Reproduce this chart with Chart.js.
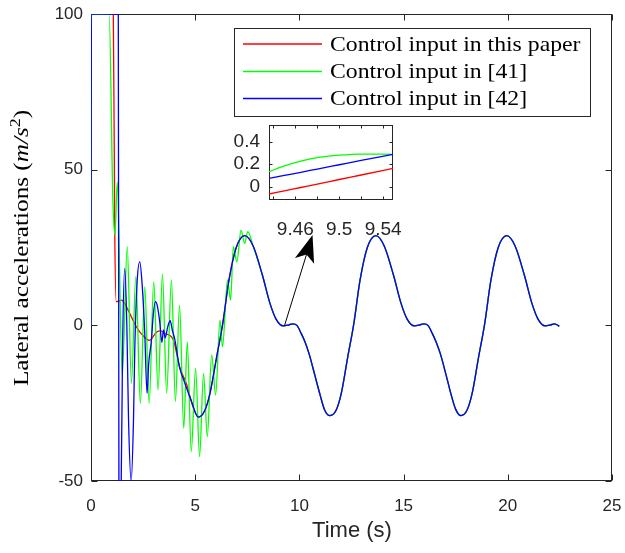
<!DOCTYPE html>
<html>
<head>
<meta charset="utf-8">
<script src="https://cdn.jsdelivr.net/npm/chart.js@4.4.0/dist/chart.umd.min.js"></script>
<style>
  html, body { margin: 0; padding: 0; background: #fff; }
  #wrap { position: relative; width: 625px; height: 553px; }
  #main { position: absolute; left: 0; top: 0; }
  #inset { position: absolute; left: 220px; top: 120px; }
</style>
</head>
<body>
<div id="wrap">
  <canvas id="main" width="625" height="553"></canvas>
  <canvas id="inset" width="190" height="125"></canvas>
</div>
<script>
// ---- data ----
// common steady part, shared by all three inputs once they have converged
const tailTime = [5.15, 5.47, 5.72, 6.02, 6.32, 6.62, 6.97, 7.38, 7.78, 8.23, 8.58, 8.88, 9.23, 9.48, 9.68, 9.88,
  10.08, 10.28, 10.48, 10.74, 11.0, 11.2, 11.47, 11.76, 12.02, 12.31, 12.61, 12.91, 13.26, 13.67, 14.07, 14.52,
  14.87, 15.17, 15.52, 15.77, 15.97, 16.17, 16.37, 16.57, 16.78, 17.04, 17.29, 17.5, 17.75, 18.04, 18.3, 18.59,
  18.89, 19.19, 19.54, 19.95, 20.35, 20.8, 21.15, 21.45, 21.8, 22.05, 22.25, 22.47];
const tailValue = [-29.5, -27.2, -21.5, -10.5, 0.5, 14.5, 25, 28.8, 25.5, 16, 7.2, 2, -0.2, 0.1, 0.5, 0,
  -2.5, -5.5, -9.5, -16, -22.5, -27, -29, -27.3, -21.5, -10.5, 0.5, 14.5, 25, 28.8, 25.5, 16,
  7.2, 2, -0.2, 0.1, 0.5, 0, -2.5, -5.5, -9.5, -16, -22.5, -27, -29, -27.3, -21.5, -10.5,
  0.5, 14.5, 25, 28.8, 25.5, 16, 7.2, 2, -0.2, 0.1, 0.5, -0.3];

// transient part of each input
const redTime = [0, 0.02, 1.07, 1.14, 1.21, 1.35, 1.47, 1.62, 1.93, 2.17, 2.45, 2.8, 3.14, 3.35, 3.55, 3.95, 4.25, 4.57, 4.89];
const redValue = [0, 100, 100, 30, 7.6, 7.8, 8.1, 7, 2.8, -0.4, -3, -4.8, -2.2, -1.8, -2.6, -4.7, -13.3, -18.6, -26.1];

const greenTime = [0, 0.02, 0.87, 1.05, 1.15, 1.26, 1.5, 1.74, 1.94, 2.15, 2.37, 2.58, 2.79, 3.01, 3.22, 3.43, 3.63,
  3.86, 4.05, 4.25, 4.45, 4.62, 4.81, 5.02, 5.21, 5.4, 5.58, 5.79, 5.98, 6.19, 6.31, 6.55, 6.7, 6.83, 7.0, 7.2, 7.37, 7.52, 7.78];
const greenValue = [0, 100, 100, 40, 29, 46, -16, 25.3, -18.6, 15.6, -25.1, 12.4, -25.1, 14, -20.8, 16.5, -21.8,
  14.6, -24.5, 6.5, -33.1, -5.3, -40.6, -13.8, -42.2, -15.4, -35.8, -9.5, -22.4, 1.7, -6.9, 14.6, 8.1, 25.3, 20.4, 30.6, 26.3, 30.1, 25.5];

const blueTime = [0, 0.02, 1.31, 1.34, 1.39, 1.45, 1.52, 1.62, 1.72, 1.8, 1.93, 2.04, 2.1, 2.21, 2.34, 2.45, 2.58,
  2.69, 2.77, 2.9, 2.98, 3.09, 3.19, 3.3, 3.4, 3.48, 3.56, 3.68, 3.8, 3.9, 4.02, 4.25, 4.5, 4.8];
const blueValue = [0, 100, 100, -50, -58, -50, -5, 18.3, 0, -30, -50, -30, -8, 13.5, 20.4, 13.5, -2.6,
  -21.8, -12.2, -4.7, 2.8, 7.6, 6, 1, -5.5, -1.5, -4, -0.5, 1.5, -1.5, -4.5, -13.5, -18.5, -24];

// zoomed inset around t = 9.5
const insetTime = [9.436, 9.45, 9.465, 9.48, 9.5, 9.52, 9.549];
const insetRed = [-0.065, -0.037, -0.007, 0.023, 0.064, 0.104, 0.163];
const insetGreen = [0.133, 0.185, 0.228, 0.258, 0.28, 0.29, 0.288];
const insetBlue = [0.074, 0.1, 0.128, 0.157, 0.195, 0.233, 0.288];

const xTicks = [0, 5, 10, 15, 20, 25];
const yTicks = [-50, 0, 50, 100];
const insetXTicks = [9.44, 9.46, 9.48, 9.5, 9.52, 9.54];
const insetXLabels = ['', '9.46', '', '9.5', '', '9.54'];
const insetYTicks = [0, 0.2, 0.4];
const insetYLabels = ['0', '0.2', '0.4'];

const legendLabels = ['Control input in this paper', 'Control input in [41]', 'Control input in [42]'];
const seriesColors = ['#ff0000', '#00ff00', '#0000ff'];

const AXIS_COLOR = '#262626';
const SANS = '"Liberation Sans", Arial, sans-serif';
const SERIF = '"Liberation Serif", "Times New Roman", serif';

function points(xs, ys) {
  return xs.map((x, i) => ({ x: x, y: ys[i] }));
}

// frame with inward ticks on all four sides (matlab box style)
function boxPlugin(tickLen) {
  return {
    id: 'box',
    beforeDatasetsDraw(chart) {
      const { ctx, chartArea: a, scales } = chart;
      const l = Math.round(a.left) + 0.5, r = Math.round(a.right) - 0.5;
      const t = Math.round(a.top) + 0.5, b = Math.round(a.bottom) - 0.5;
      ctx.save();
      ctx.strokeStyle = AXIS_COLOR;
      ctx.lineWidth = 1;
      ctx.beginPath();
      scales.x.ticks.forEach(tk => {
        const px = Math.round(scales.x.getPixelForValue(tk.value)) + 0.5;
        ctx.moveTo(px, b); ctx.lineTo(px, b - tickLen);
        ctx.moveTo(px, t); ctx.lineTo(px, t + tickLen);
      });
      scales.y.ticks.forEach(tk => {
        const py = Math.round(scales.y.getPixelForValue(tk.value)) + 0.5;
        ctx.moveTo(l, py); ctx.lineTo(l + tickLen, py);
        ctx.moveTo(r, py); ctx.lineTo(r - tickLen, py);
      });
      ctx.stroke();
      ctx.strokeRect(l, t, r - l, b - t);
      ctx.restore();
    }
  };
}

const whiteArea = {
  id: 'whiteArea',
  beforeDraw(chart) {
    const { ctx, chartArea: a } = chart;
    ctx.save();
    ctx.fillStyle = '#fff';
    ctx.fillRect(a.left, a.top, a.right - a.left, a.bottom - a.top);
    ctx.restore();
  }
};

// arrow pointing from the plateau up to the inset
const arrowFrom = [9.28, -0.2];
const arrowTo = [10.63, 29];
const arrowPlugin = {
  id: 'arrow',
  afterDatasetsDraw(chart) {
    const { ctx, scales } = chart;
    const x0 = scales.x.getPixelForValue(arrowFrom[0]), y0 = scales.y.getPixelForValue(arrowFrom[1]);
    const x1 = scales.x.getPixelForValue(arrowTo[0]), y1 = scales.y.getPixelForValue(arrowTo[1]);
    const len = Math.hypot(x1 - x0, y1 - y0);
    const ux = (x1 - x0) / len, uy = (y1 - y0) / len;
    const headL = 27, headW = 10;
    ctx.save();
    ctx.strokeStyle = '#000';
    ctx.fillStyle = '#000';
    ctx.lineWidth = 1;
    ctx.beginPath();
    ctx.moveTo(x0, y0);
    ctx.lineTo(x1 - ux * headL * 0.7, y1 - uy * headL * 0.7);
    ctx.stroke();
    const bx = x1 - ux * headL, by = y1 - uy * headL;
    ctx.beginPath();
    ctx.moveTo(x1, y1);
    ctx.lineTo(bx - uy * headW, by + ux * headW);
    ctx.lineTo(x1 - ux * headL * 0.75, y1 - uy * headL * 0.75);
    ctx.lineTo(bx + uy * headW, by - ux * headW);
    ctx.closePath();
    ctx.fill();
    ctx.restore();
  }
};

// text drawn a bit wider than Liberation Serif to get closer to the latex font
function wideText(ctx, text, x, y, stretch) {
  ctx.save();
  ctx.translate(x, y);
  ctx.scale(stretch, 1);
  ctx.fillText(text, 0, 0);
  ctx.restore();
  return ctx.measureText(text).width * stretch;
}

// legend box, axis titles
const decorPlugin = {
  id: 'decor',
  afterDraw(chart) {
    const { ctx } = chart;
    ctx.save();
    // legend
    ctx.fillStyle = '#fff';
    ctx.fillRect(234, 28, 357, 89);
    ctx.strokeStyle = AXIS_COLOR;
    ctx.lineWidth = 1;
    ctx.strokeRect(234.5, 28.5, 356, 88);
    const rowY = [44, 71.5, 98.5];
    legendLabels.forEach((label, i) => {
      ctx.strokeStyle = seriesColors[i];
      ctx.lineWidth = 1.3;
      ctx.beginPath();
      ctx.moveTo(243, rowY[i]);
      ctx.lineTo(322, rowY[i]);
      ctx.stroke();
      ctx.fillStyle = '#000';
      ctx.font = '21px ' + SERIF;
      ctx.textBaseline = 'middle';
      ctx.textAlign = 'left';
      wideText(ctx, label, 330, rowY[i] + 1, 1.13);
    });

    // x title
    ctx.fillStyle = AXIS_COLOR;
    ctx.font = '22px ' + SANS;
    ctx.textAlign = 'center';
    ctx.textBaseline = 'middle';
    ctx.fillText('Time (s)', 352, 531);

    // y title, latex style
    const stretch = 1.2;
    const parts = [
      { text: 'Lateral accelerations (', font: '21px ' + SERIF, dy: 0 },
      { text: 'm/s', font: 'italic 21px ' + SERIF, dy: 0 },
      { text: '2', font: '15px ' + SERIF, dy: -8 },
      { text: ')', font: '21px ' + SERIF, dy: 0 }
    ];
    let total = 0;
    parts.forEach(p => { ctx.font = p.font; p.w = ctx.measureText(p.text).width * stretch; total += p.w; });
    ctx.translate(28, 248);
    ctx.rotate(-Math.PI / 2);
    ctx.textAlign = 'left';
    ctx.textBaseline = 'alphabetic';
    ctx.fillStyle = '#000';
    let x = -total / 2;
    parts.forEach(p => {
      ctx.font = p.font;
      wideText(ctx, p.text, x, p.dy, stretch);
      x += p.w;
    });
    ctx.restore();
  }
};

const lineDefaults = {
  pointRadius: 0,
  borderWidth: 1.3,
  cubicInterpolationMode: 'monotone',
  fill: false
};

function fitX(h) {
  return s => { s.height = h; s.paddingLeft = 0; s.paddingRight = 0; };
}
function fitY(w) {
  return s => { s.width = w; s.paddingTop = 0; s.paddingBottom = 0; };
}

new Chart(document.getElementById('main'), {
  type: 'line',
  data: {
    datasets: [
      Object.assign({ label: legendLabels[0], data: points(redTime.concat(tailTime), redValue.concat(tailValue)),
        borderColor: seriesColors[0], order: 3 }, lineDefaults),
      Object.assign({ label: legendLabels[1], data: points(greenTime.concat(tailTime.slice(9)), greenValue.concat(tailValue.slice(9))),
        borderColor: seriesColors[1], order: 2 }, lineDefaults),
      Object.assign({ label: legendLabels[2], data: points(blueTime.concat(tailTime), blueValue.concat(tailValue)),
        borderColor: seriesColors[2], order: 1 }, lineDefaults)
    ]
  },
  options: {
    responsive: false,
    animation: false,
    events: [],
    layout: { padding: { left: 0, right: 13, top: 14, bottom: 0 } },
    plugins: { legend: { display: false }, tooltip: { enabled: false } },
    scales: {
      x: {
        type: 'linear', min: 0, max: 25,
        afterBuildTicks: s => { s.ticks = xTicks.map(v => ({ value: v })); },
        afterFit: fitX(72),
        grid: { display: false, drawTicks: false },
        border: { display: false },
        ticks: { color: AXIS_COLOR, font: { family: SANS, size: 17 }, padding: 15, maxRotation: 0, autoSkip: false }
      },
      y: {
        type: 'linear', min: -50, max: 100,
        afterBuildTicks: s => { s.ticks = yTicks.map(v => ({ value: v })); },
        afterFit: fitY(91),
        grid: { display: false, drawTicks: false },
        border: { display: false },
        ticks: { color: AXIS_COLOR, font: { family: SANS, size: 17 }, padding: 8, autoSkip: false }
      }
    }
  },
  plugins: [whiteArea, boxPlugin(6), arrowPlugin, decorPlugin]
});

new Chart(document.getElementById('inset'), {
  type: 'line',
  data: {
    datasets: [
      Object.assign({ data: points(insetTime, insetRed), borderColor: seriesColors[0], order: 3 }, lineDefaults),
      Object.assign({ data: points(insetTime, insetGreen), borderColor: seriesColors[1], order: 2 }, lineDefaults),
      Object.assign({ data: points(insetTime, insetBlue), borderColor: seriesColors[2], order: 1 }, lineDefaults)
    ]
  },
  options: {
    responsive: false,
    animation: false,
    events: [],
    layout: { padding: { left: 0, right: 17, top: 5, bottom: 0 } },
    plugins: { legend: { display: false }, tooltip: { enabled: false } },
    scales: {
      x: {
        type: 'linear', min: 9.436, max: 9.549,
        afterBuildTicks: s => { s.ticks = insetXTicks.map(v => ({ value: v })); },
        afterFit: fitX(45),
        grid: { display: false, drawTicks: false },
        border: { display: false },
        ticks: { color: AXIS_COLOR, font: { family: SANS, size: 19 }, padding: 18, maxRotation: 0, autoSkip: false,
          callback: (v, i) => insetXLabels[i] }
      },
      y: {
        type: 'linear', min: -0.118, max: 0.548,
        afterBuildTicks: s => { s.ticks = insetYTicks.map(v => ({ value: v })); },
        afterFit: fitY(49),
        grid: { display: false, drawTicks: false },
        border: { display: false },
        ticks: { color: AXIS_COLOR, font: { family: SANS, size: 19 }, padding: 9, autoSkip: false,
          callback: (v, i) => insetYLabels[i] }
      }
    }
  },
  plugins: [whiteArea, boxPlugin(3)]
});
</script>
</body>
</html>
